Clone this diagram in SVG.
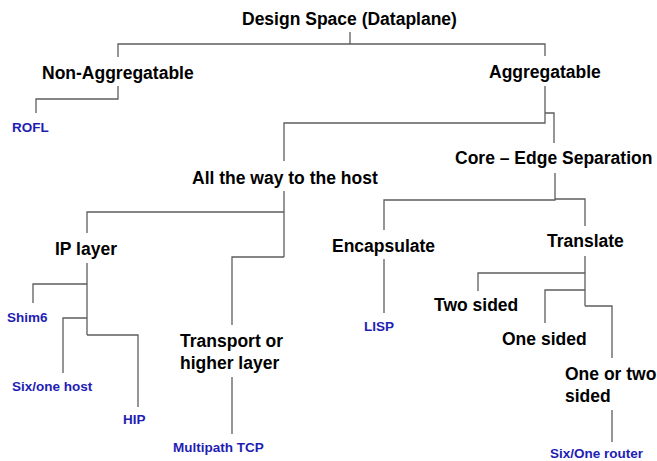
<svg xmlns="http://www.w3.org/2000/svg" width="657" height="461" viewBox="0 0 657 461">
<style>
.h{font-family:"Liberation Sans",Arial,sans-serif;font-weight:bold;font-size:17.5px;fill:#000}
.l{font-family:"Liberation Sans",Arial,sans-serif;font-weight:bold;font-size:13.5px;fill:#1e1eb4}
.c{fill:none;stroke:#5e5e5e;stroke-width:1.3}
</style>
<rect width="657" height="461" fill="#fff"/>
<g id="connectors" class="c">
<path d="M350,32V44M118,57V44H545V56"/>
<path d="M118,86V99H36V113"/>
<path d="M545,86V123H284V161M545,113H554V143"/>
<path d="M284,191V257M87,233V212H284M232,325V257H284"/>
<path d="M555,173V200H384V230M555,199H585V226"/>
<path d="M87,263V335M33,303V284H87M63,373V318H87M87,335H138V407"/>
<path d="M232,377V434"/>
<path d="M384,259V313"/>
<path d="M585,256V306M478,291V273H585M545,323V290H585M585,306H612V358"/>
<path d="M612,410V442"/>
</g>
<g id="design-space"><text class="h" x="242" y="25">Design Space (Dataplane)</text></g>
<g id="non-aggregatable"><text class="h" x="42" y="79">Non-Aggregatable</text></g>
<g id="rofl"><text class="l" x="12" y="132">ROFL</text></g>
<g id="aggregatable"><text class="h" x="489" y="78">Aggregatable</text></g>
<g id="all-the-way"><text class="h" x="192" y="184">All the way to the host</text></g>
<g id="core-edge"><text class="h" x="455" y="164">Core – Edge Separation</text></g>
<g id="ip-layer"><text class="h" x="55" y="255">IP layer</text></g>
<g id="shim6"><text class="l" x="7" y="322">Shim6</text></g>
<g id="six-one-host"><text class="l" x="12" y="391">Six/one host</text></g>
<g id="hip"><text class="l" x="123" y="424">HIP</text></g>
<g id="transport"><text class="h" x="180" y="347">Transport or</text><text class="h" x="180" y="369">higher layer</text></g>
<g id="multipath-tcp"><text class="l" x="173" y="452">Multipath TCP</text></g>
<g id="encapsulate"><text class="h" x="332" y="252">Encapsulate</text></g>
<g id="lisp"><text class="l" x="364" y="331">LISP</text></g>
<g id="translate"><text class="h" x="547" y="247">Translate</text></g>
<g id="two-sided"><text class="h" x="434" y="311">Two sided</text></g>
<g id="one-sided"><text class="h" x="502" y="345">One sided</text></g>
<g id="one-or-two"><text class="h" x="565" y="380">One or two</text><text class="h" x="565" y="402">sided</text></g>
<g id="six-one-router"><text class="l" x="550" y="458">Six/One router</text></g>
</svg>
